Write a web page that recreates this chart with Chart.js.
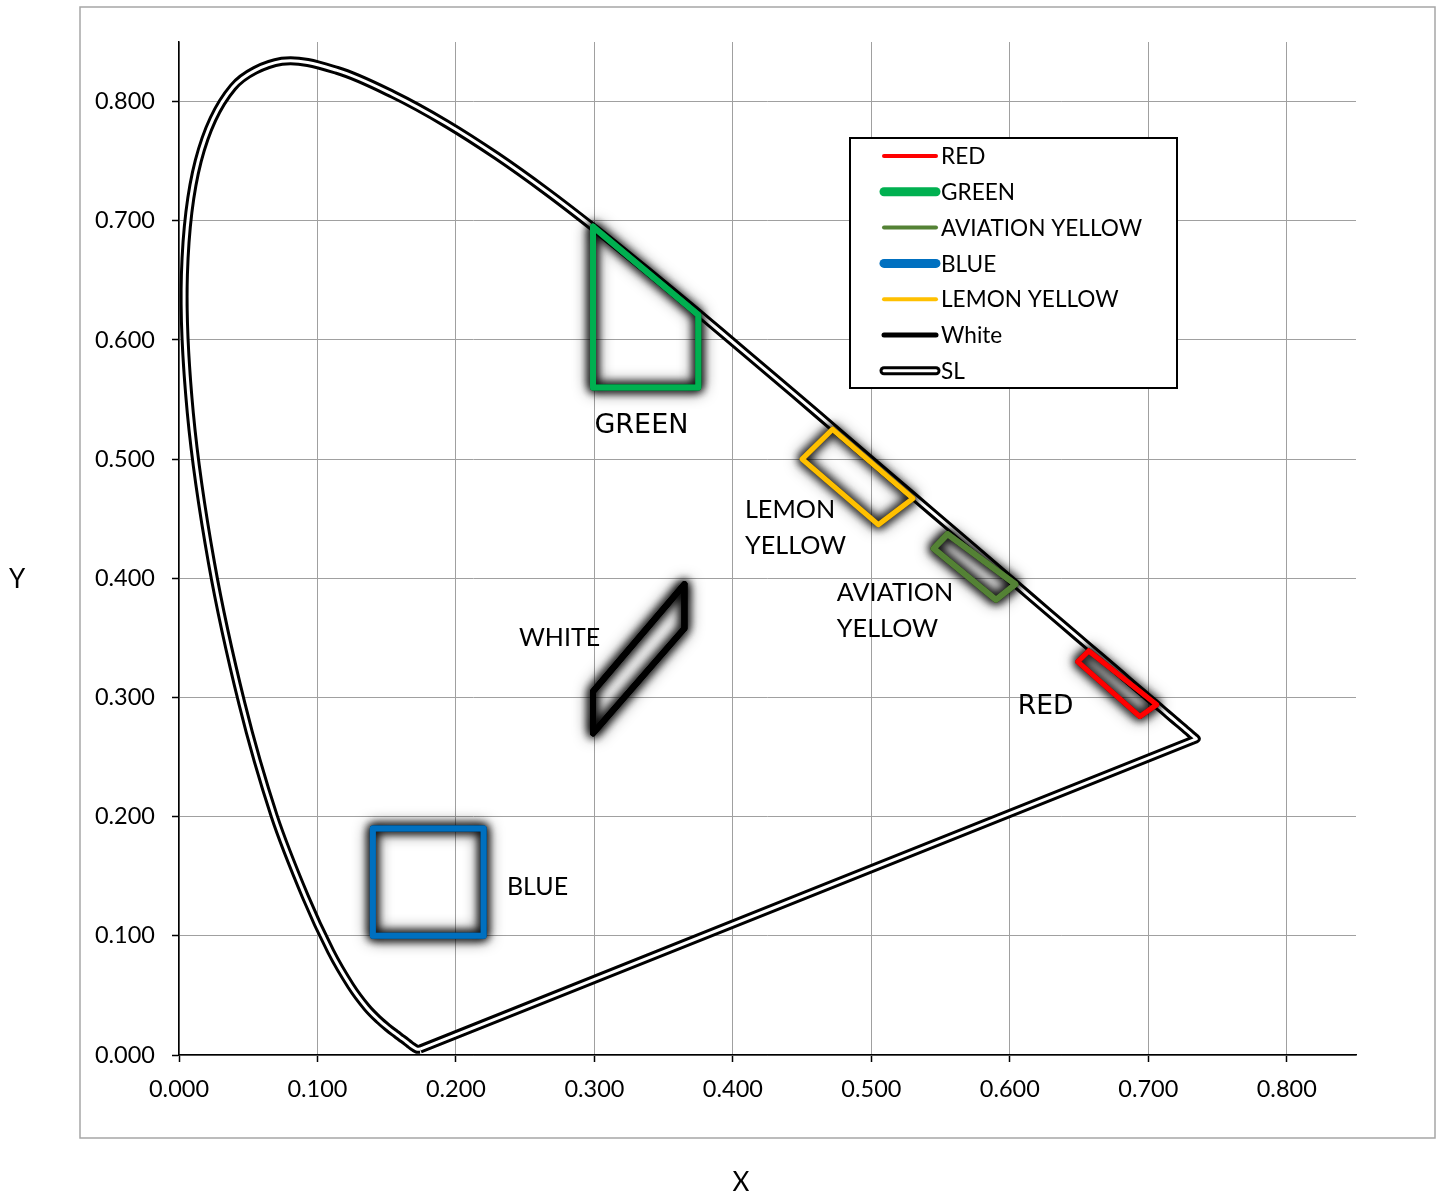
<!DOCTYPE html>
<html><head><meta charset="utf-8">
<script src="https://cdn.jsdelivr.net/npm/chart.js@4.4.1/dist/chart.umd.min.js"></script>
<style>html,body{margin:0;padding:0;background:#fff;overflow:hidden}#wrap{width:1442px;height:1196px;position:relative}</style>
</head><body><div id="wrap"><canvas id="c" width="1442" height="1196"></canvas></div>
<script>
// Spectral locus (SL), CIE 1931 x,y from 380 nm to 700 nm, closed by the purple line
const slX = [0.1741,0.1740,0.1738,0.1736,0.1733,0.1730,0.1726,0.1721,0.1714,
  0.1703,0.1689,0.1669,0.1644,0.1611,0.1566,0.1510,0.1440,0.1355,0.1241,
  0.1096,0.0913,0.0687,0.0454,0.0235,0.0082,0.0039,0.0139,0.0389,0.0743,
  0.1142,0.1547,0.1929,0.2296,0.2658,0.3016,0.3373,0.3731,0.4087,0.4441,
  0.4788,0.5125,0.5448,0.5752,0.6029,0.6270,0.6482,0.6658,0.6801,0.6915,
  0.7006,0.7079,0.7140,0.7190,0.7230,0.7260,0.7283,0.7300,0.7311,0.7320,
  0.7327,0.7334,0.7340,0.7344,0.7346,0.7347,0.1741];
const slY = [0.0050,0.0050,0.0049,0.0049,0.0048,0.0048,0.0048,0.0048,0.0051,
  0.0058,0.0069,0.0086,0.0109,0.0138,0.0177,0.0227,0.0297,0.0399,0.0578,
  0.0868,0.1327,0.2007,0.2950,0.4127,0.5384,0.6548,0.7502,0.8120,0.8338,
  0.8262,0.8059,0.7816,0.7543,0.7243,0.6923,0.6589,0.6245,0.5896,0.5547,
  0.5202,0.4866,0.4544,0.4242,0.3965,0.3725,0.3514,0.3340,0.3197,0.3083,
  0.2993,0.2920,0.2859,0.2809,0.2770,0.2740,0.2717,0.2700,0.2689,0.2680,
  0.2673,0.2666,0.2660,0.2656,0.2654,0.2653,0.0050];

const redX = [0.657, 0.649, 0.694, 0.706, 0.657];
const redY = [0.339, 0.330, 0.284, 0.294, 0.339];
const greenX = [0.299, 0.375, 0.375, 0.299, 0.299];
const greenY = [0.695, 0.621, 0.560, 0.560, 0.695];
const aviationX = [0.555, 0.545, 0.590, 0.604, 0.555];
const aviationY = [0.437, 0.425, 0.382, 0.395, 0.437];
const blueX = [0.140, 0.220, 0.220, 0.140, 0.140];
const blueY = [0.190, 0.190, 0.100, 0.100, 0.190];
const lemonX = [0.472, 0.450, 0.505, 0.530, 0.472];
const lemonY = [0.525, 0.500, 0.445, 0.467, 0.525];
const whiteX = [0.365, 0.365, 0.299, 0.299, 0.365];
const whiteY = [0.395, 0.358, 0.270, 0.305, 0.395];

const seriesNames = ['RED','GREEN','AVIATION YELLOW','BLUE','LEMON YELLOW','White','SL'];
const tickValues = [0,0.1,0.2,0.3,0.4,0.5,0.6,0.7,0.8];

const pts = (xs, ys) => xs.map((x, i) => ({x, y: ys[i]}));

const boxStyle = (color, w) => ({borderColor: color, backgroundColor: color, borderWidth: w,
  showLine: true, pointRadius: 0, tension: 0, borderCapStyle: 'round', borderJoinStyle: 'round', glow: true, fill: false});

const datasets = [
  Object.assign({label: seriesNames[0], data: pts(redX, redY)}, boxStyle('#FF0000', 5)),
  Object.assign({label: seriesNames[1], data: pts(greenX, greenY)}, boxStyle('#00B050', 6)),
  Object.assign({label: seriesNames[2], data: pts(aviationX, aviationY)}, boxStyle('#548235', 6)),
  Object.assign({label: seriesNames[3], data: pts(blueX, blueY)}, boxStyle('#0070C0', 6)),
  Object.assign({label: seriesNames[4], data: pts(lemonX, lemonY)}, boxStyle('#FFC000', 5)),
  Object.assign({label: seriesNames[5], data: pts(whiteX, whiteY)}, boxStyle('#000000', 6)),
  {label: 'SL_inner', data: pts(slX, slY), borderColor: '#FFFFFF', borderWidth: 3, showLine: true,
   pointRadius: 0, tension: 0.33, borderJoinStyle: 'miter', fill: false},
  {label: seriesNames[6], data: pts(slX, slY), borderColor: '#000000', borderWidth: 9, showLine: true,
   pointRadius: 0, tension: 0.33, borderJoinStyle: 'miter', fill: false}
];

const legendItems = [
  {name: seriesNames[0], color: '#FF0000', w: 4},
  {name: seriesNames[1], color: '#00B050', w: 9},
  {name: seriesNames[2], color: '#548235', w: 4},
  {name: seriesNames[3], color: '#0070C0', w: 9},
  {name: seriesNames[4], color: '#FFC000', w: 4},
  {name: seriesNames[5], color: '#000000', w: 5},
  {name: seriesNames[6], color: '#000000', w: 9, dbl: true}
];

const annotations = [
  {t: 'GREEN', x: 0.300, y: 0.528, f: '27px "DejaVu Sans"'},
  {t: 'LEMON', x: 0.4087, y: 0.4577, f: '25.2px Lato'},
  {t: 'YELLOW', x: 0.4087, y: 0.4273, f: '25.2px Lato'},
  {t: 'AVIATION', x: 0.4751, y: 0.3880, f: '25.2px Lato'},
  {t: 'YELLOW', x: 0.4751, y: 0.3577, f: '25.2px Lato'},
  {t: 'WHITE', x: 0.2455, y: 0.3500, f: '25px Lato'},
  {t: 'RED', x: 0.6058, y: 0.2922, f: '26.5px "DejaVu Sans"'},
  {t: 'BLUE', x: 0.2368, y: 0.1410, f: '25px Lato'}
];

const glowPlugin = {
  id: 'glow',
  beforeDatasetDraw(chart, args) {
    const ds = chart.data.datasets[args.index];
    if (ds.glow) {
      const ctx = chart.ctx; ctx.save();
      ctx.shadowColor = 'rgba(0,0,0,1)'; ctx.shadowOffsetX = 0; ctx.shadowOffsetY = 0;
      // extra shadowed passes to build a soft dark glow around the boundary
      ctx.shadowBlur = 16;
      args.meta.dataset.draw(ctx, chart.chartArea);
      ctx.shadowBlur = 10;
      args.meta.dataset.draw(ctx, chart.chartArea);
    }
  },
  afterDatasetDraw(chart, args) {
    const ds = chart.data.datasets[args.index];
    if (ds.glow) chart.ctx.restore();
  }
};

const decoPlugin = {
  id: 'deco',
  afterDraw(chart) {
    const ctx = chart.ctx, xs = chart.scales.x, ys = chart.scales.y;
    ctx.save();
    ctx.fillStyle = '#000'; ctx.textAlign = 'left'; ctx.textBaseline = 'middle';
    annotations.forEach(a => {
      ctx.font = a.f;
      ctx.fillText(a.t, xs.getPixelForValue(a.x), ys.getPixelForValue(a.y));
    });
    // legend
    const L = 850, T = 138, W = 327, H = 250;
    ctx.fillStyle = '#fff'; ctx.fillRect(L, T, W, H);
    ctx.strokeStyle = '#000'; ctx.lineWidth = 2; ctx.strokeRect(L, T, W, H);
    ctx.font = '22.6px Lato';
    legendItems.forEach((it, i) => {
      const y = 156 + i * 35.8;
      ctx.lineCap = 'round';
      ctx.beginPath(); ctx.moveTo(884, y); ctx.lineTo(936, y);
      ctx.strokeStyle = it.color; ctx.lineWidth = it.w; ctx.stroke();
      if (it.dbl) {
        ctx.beginPath(); ctx.moveTo(884, y); ctx.lineTo(936, y);
        ctx.strokeStyle = '#fff'; ctx.lineWidth = 3; ctx.stroke();
      }
      ctx.fillStyle = '#000'; ctx.textAlign = 'left'; ctx.textBaseline = 'middle';
      ctx.fillText(it.name, 941, y + 1);
    });
    // axis titles
    ctx.font = '26px Lato'; ctx.textAlign = 'center'; ctx.textBaseline = 'middle';
    ctx.fillText('Y', 17, 580);
    ctx.fillText('X', 741, 1183);
    // chart border
    ctx.strokeStyle = '#a6a6a6'; ctx.lineWidth = 1.5;
    ctx.strokeRect(80, 7, 1355, 1131);
    ctx.restore();
  }
};

new Chart(document.getElementById('c'), {
  type: 'scatter',
  data: {datasets},
  options: {
    responsive: false, animation: false, devicePixelRatio: 1,
    elements: {line: {capBezierPoints: false}},
    layout: {padding: {left: 0, top: 42, right: 86, bottom: 0}},
    plugins: {legend: {display: false}, tooltip: {enabled: false}},
    scales: {
      x: {type: 'linear', min: 0, max: 0.85,
        afterBuildTicks(s) { s.ticks = tickValues.map(v => ({value: v})); },
        afterFit(s) { s.height = 141; },
        ticks: {stepSize: 0.1, includeBounds: false, autoSkip: false, maxRotation: 0,
          callback: v => Number(v).toFixed(3), color: '#000', font: {family: 'Lato', size: 23.5}, padding: 13},
        grid: {color: '#a0a0a0', lineWidth: 1, tickLength: 7, tickColor: '#000', tickWidth: 1.5},
        border: {color: '#000', width: 1.5}
      },
      y: {type: 'linear', min: 0, max: 0.85,
        afterBuildTicks(s) { s.ticks = tickValues.map(v => ({value: v})); },
        afterFit(s) { s.width = 179; },
        ticks: {stepSize: 0.1, includeBounds: false, autoSkip: false,
          callback: v => Number(v).toFixed(3), color: '#000', font: {family: 'Lato', size: 23.5}, padding: 17},
        grid: {color: '#a0a0a0', lineWidth: 1, tickLength: 7, tickColor: '#000', tickWidth: 1.5},
        border: {color: '#000', width: 1.5}
      }
    }
  },
  plugins: [glowPlugin, decoPlugin]
});
</script></body></html>
